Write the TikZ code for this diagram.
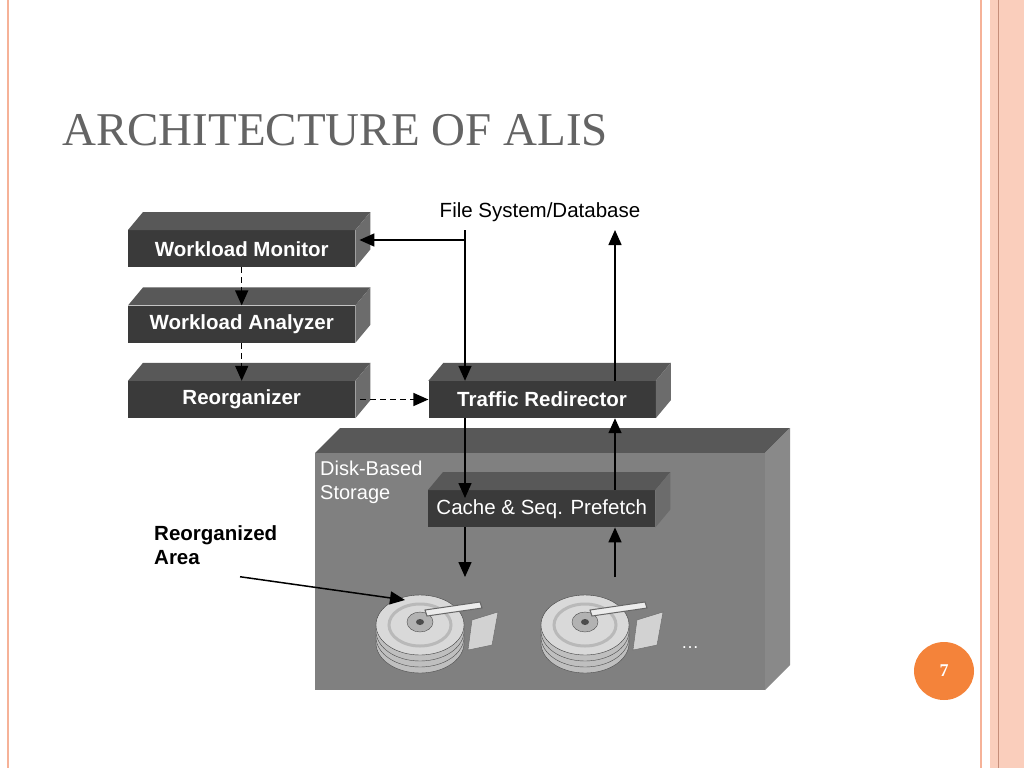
\documentclass[tikz,border=0pt]{standalone}
\usepackage{fontspec}
\setmainfont{Liberation Sans}
\newfontfamily\titlefont{Liberation Serif}
\usetikzlibrary{arrows.meta,positioning,shapes.geometric}
\definecolor{salmon}{RGB}{246,178,152}
\definecolor{salmonlight}{RGB}{250,206,188}
\definecolor{pageorange}{RGB}{244,131,58}
\definecolor{titlegray}{RGB}{100,100,100}
\definecolor{frontgray}{RGB}{58,58,58}
\definecolor{topgray}{RGB}{88,88,88}
\definecolor{sidegray}{RGB}{108,108,108}
\definecolor{storefront}{RGB}{128,128,128}

\begin{document}
\begin{tikzpicture}[
    x=1pt, y=-1pt,
    slab/.style={rectangle, fill=frontgray, minimum width=227pt, minimum height=37pt, inner sep=0pt, text=white, font=\fontsize{20.5}{22}\selectfont\bfseries},
    flow/.style={-{Triangle[length=15pt,width=13pt]}, line width=1.5pt},
    dflow/.style={flow, dash pattern=on 6pt off 4pt}
]
\useasboundingbox (0,0) rectangle (1024,768);
% slide frame
\draw[salmon, line width=1.5pt] (8,0) -- (8,768);
\fill[salmonlight] (990,0) rectangle (1024,768);
\draw[salmon, line width=1.5pt] (981,0) -- (981,768);
\draw[salmon!80!black, line width=0.6pt] (998,0) -- (998,768);
\node[anchor=base west, inner sep=0pt, text=titlegray, font=\fontsize{47}{50}\selectfont\titlefont] (title) at (62,145) {ARCHITECTURE OF ALIS};

% storage block
\fill[topgray] (315,453) -- (340,428) -- (790,428) -- (765,453) -- cycle;
\fill[sidegray!80] (765,453) -- (790,428) -- (790,665) -- (765,690) -- cycle;
\node[rectangle, fill=storefront, minimum width=450pt, minimum height=237pt, inner sep=0pt, anchor=north west] (storage) at (315,453) {};
\node[anchor=north west, inner sep=2pt, text=white, align=left, font=\fontsize{20}{24}\selectfont] (storlabel) at (318,459) {Disk-Based\\Storage};

% blocks
\node[slab, anchor=north west] (monitor) at (128,230) {Workload Monitor};
\node[slab, below=38pt of monitor] (analyzer) {Workload Analyzer};
\node[slab, below=38pt of analyzer] (reorg) {Reorganizer};
\node[slab, right=73pt of reorg] (redirect) {Traffic Redirector};
\node[slab, anchor=north west, font=\fontsize{20.5}{22}\selectfont] (cache) at (428,490) {Cache \& Seq. Prefetch};
\foreach \n in {monitor,analyzer,reorg,redirect,cache}{
  \fill[topgray] (\n.north west) -- ++(15,-18) -- ([shift={(15,-18)}]\n.north east) -- (\n.north east) -- cycle;
  \fill[sidegray] (\n.north east) -- ++(15,-18) -- ([shift={(15,-18)}]\n.south east) -- (\n.south east) -- cycle;
}

% disks
\foreach \cx/\nm in {420/diskA,585/diskB}{
  \foreach \dy in {18,12,6}
    \draw[gray!60!black, fill=gray!50] (\cx,625+\dy) ellipse (44 and 30);
  \draw[gray!50!black, fill=gray!30] (\cx,625) ellipse (44 and 30);
  \draw[gray!55, line width=3pt] (\cx,625) ellipse (31 and 21);
  \draw[black!70, fill=gray!60] (\cx,622) ellipse (13 and 10);
  \fill[black!70] (\cx,622) ellipse (4 and 3);
  \draw[black!60, fill=gray!35] (\cx+52,620) -- (\cx+78,612) -- (\cx+72,645) -- (\cx+48,650) -- cycle;
  \draw[black!60, fill=gray!15, line width=1pt] (\cx+5,610) -- (\cx+60,602) -- (\cx+62,608) -- (\cx+7,616) -- cycle;
  \coordinate (\nm) at (\cx,610);
}
\node[text=white, font=\fontsize{18}{20}\selectfont] (dots) at (690,648) {\dots};

% connectors
\node[font=\fontsize{20.5}{22}\selectfont] (fsdb) at (540,212) {File System/Database};
\coordinate (fsin) at (465,230);
\coordinate (fsout) at (615,230);
\coordinate (branch) at (465,240);
\coordinate (diskin) at (465,577);
\coordinate (diskout) at (615,577);
\draw[line width=1.5pt] (fsin) -- (branch);
\draw[flow] (branch) -- ([xshift=4pt]monitor.east |- branch);
\draw[flow] (branch) -- (redirect.north -| branch);
\draw[flow] (redirect.north -| fsout) -- (fsout);
\draw[dflow] (monitor) -- (analyzer);
\draw[dflow] (analyzer) -- (reorg);
\draw[dflow] ([xshift=5pt]reorg.east) -- (redirect);
\draw[flow] (redirect.south -| fsin) -- ([yshift=-8pt]cache.north -| fsin);
\draw[flow] (cache.north -| fsout) -- (redirect.south -| fsout);
\draw[flow] (cache.south -| fsin) -- (diskin);
\draw[flow] (diskout) -- (cache.south -| fsout);

\node[anchor=north west, inner sep=0pt, align=left, font=\fontsize{20.5}{24}\selectfont\bfseries] (reorgarea) at (154,525) {Reorganized\\Area};
\coordinate (areatip) at (405,600);
\draw[flow] ([shift={(86,32)}]reorgarea.west) -- (areatip);

% page number
\node[ellipse, fill=pageorange, minimum width=60pt, minimum height=58pt, text=white, font=\fontsize{18}{20}\selectfont\bfseries\titlefont] (page) at (944,671) {7};
\end{tikzpicture}
\end{document}
